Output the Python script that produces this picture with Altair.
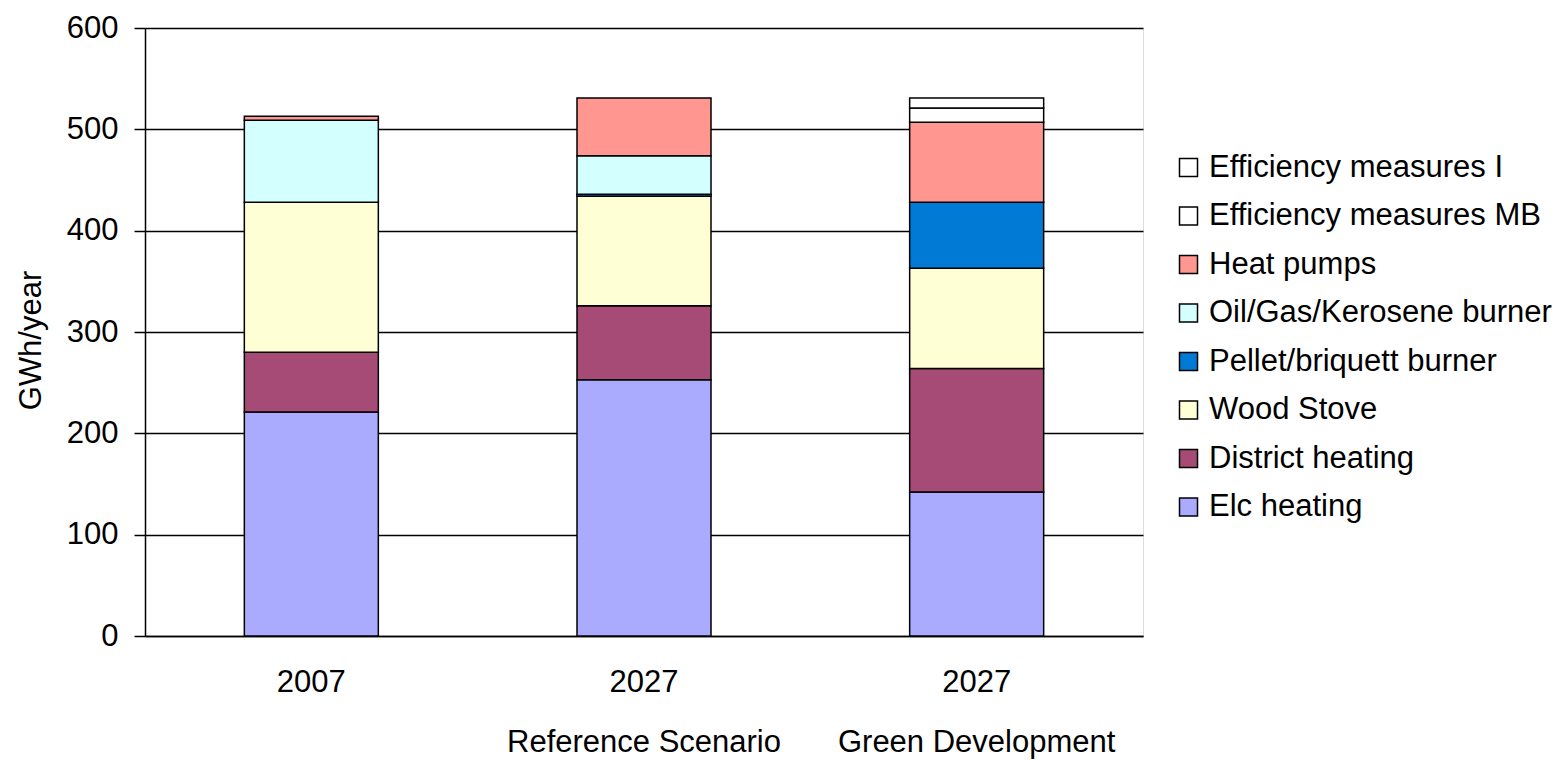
import altair as alt
import pandas as pd

# ---- data ----
scenarios = ["2007", "2027|Reference Scenario", "2027|Green Development"]
series = ["Elc heating", "District heating", "Wood Stove", "Pellet/briquett burner",
          "Oil/Gas/Kerosene burner", "Heat pumps", "Efficiency measures MB", "Efficiency measures I"]
colors = ["#AAAAFF", "#A64B75", "#FFFFD5", "#007AD4", "#D4FFFF", "#FF9690", "#FFFFFF", "#FFFFFF"]

elc      = [221, 253, 142]
district = [59, 73, 122]
wood     = [148, 108, 99]
pellet   = [0, 2, 65]
oil      = [81, 38, 0]
heatpump = [4, 57, 79]
eff_mb   = [0, 0, 14]
eff_i    = [0, 0, 10]

values = [elc, district, wood, pellet, oil, heatpump, eff_mb, eff_i]

rows = []
for si, (name, vals) in enumerate(zip(series, values)):
    for sc, v in zip(scenarios, vals):
        if v > 0:
            rows.append({"scenario": sc, "series": name, "value": v, "ord": si})
df = pd.DataFrame(rows)

legend_order = list(reversed(series))
legend_colors = list(reversed(colors))

FONT = "Liberation Sans"
FS = 31

chart = alt.Chart(df).mark_bar(size=134, stroke="black", strokeWidth=1.5).encode(
    x=alt.X("scenario:N", sort=scenarios,
            scale=alt.Scale(paddingInner=0, paddingOuter=0),
            axis=alt.Axis(title=None, labelAngle=0, ticks=False, grid=False,
                          labelExpr="split(datum.label, '|')",
                          labelLineHeight=60, labelBaseline="top", labelPadding=31,
                          labelLimit=600,
                          labelFontSize=FS, labelFont=FONT, labelColor="black",
                          domainColor="black", domainWidth=1.5)),
    y=alt.Y("value:Q", stack="zero",
            scale=alt.Scale(domain=[0, 600], nice=False),
            axis=alt.Axis(title="GWh/year", values=[0, 100, 200, 300, 400, 500, 600],
                          grid=True, gridColor="black", gridWidth=1.5, gridOpacity=1,
                          tickColor="black", tickSize=11, tickWidth=1.5,
                          domainColor="black", domainWidth=1.5,
                          labelFontSize=FS, labelFont=FONT, labelColor="black", labelPadding=16,
                          titleFontSize=FS, titleFont=FONT, titleColor="black",
                          titleFontWeight="normal", titleAngle=-90,
                          titleX=-105, titleY=312, titleBaseline="alphabetic",
                          titleAlign="center")),
    color=alt.Color("series:N",
                    scale=alt.Scale(domain=legend_order, range=legend_colors),
                    legend=alt.Legend(title=None, orient="none", legendX=1028, legendY=124,
                                      symbolType="square", symbolSize=324,
                                      symbolStrokeColor="black", symbolStrokeWidth=1.5,
                                      labelFontSize=FS, labelFont=FONT, labelColor="black",
                                      labelOffset=5, rowPadding=16.5, padding=0,
                                      labelLimit=500)),
    order=alt.Order("ord:Q", sort="ascending"),
).properties(
    width=998, height=608,
    autosize=alt.AutoSizeParams(type="none"),
    padding={"left": 145, "top": 28, "right": 415, "bottom": 124},
).configure_view(stroke=None).configure(background="white")

chart.save("out.html", embed_options={"renderer": "svg", "actions": False})
